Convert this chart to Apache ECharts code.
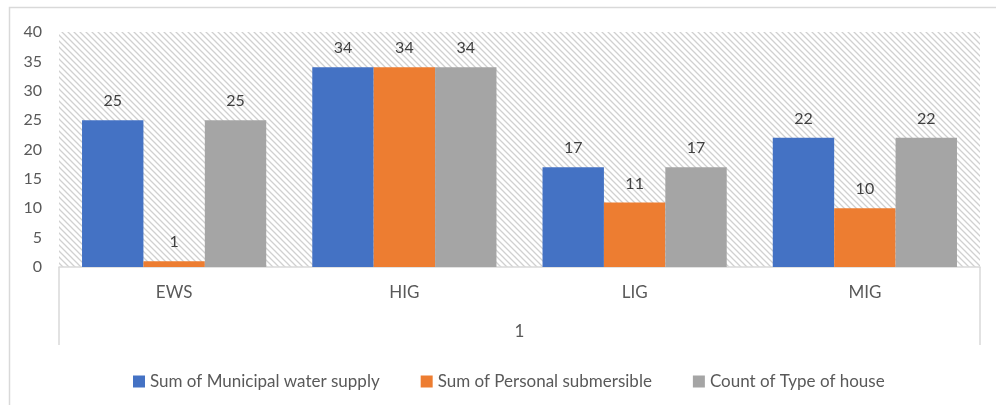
<!DOCTYPE html>
<html>
<head>
<meta charset="utf-8">
<script src="https://cdn.jsdelivr.net/npm/echarts@6/dist/echarts.min.js"></script>
<style>html,body{margin:0;padding:0;background:#fff;}#c{width:996px;height:405px;}</style>
</head>
<body>
<div id="c"></div>
<script>
const categories = ['EWS', 'HIG', 'LIG', 'MIG'];
const outerCategories = ['1'];
const seriesNames = ['Sum of Municipal water supply', 'Sum of Personal submersible', 'Count of Type of house'];
const municipal = [25, 34, 17, 22];
const submersible = [1, 34, 11, 10];
const countHouse = [25, 34, 17, 22];
const yTicks = { min: 0, max: 40, interval: 5 };

const FONT = 'Lato';
const FS = 17;
const colors = ['#4472C4', '#ED7D31', '#A5A5A5'];

// hatch pattern
const pc = document.createElement('canvas');
pc.width = 6; pc.height = 6;
const px = pc.getContext('2d');
px.fillStyle = '#ffffff'; px.fillRect(0, 0, 6, 6);
px.strokeStyle = '#d0d0d0'; px.lineWidth = 1.3;
px.beginPath();
px.moveTo(-1, -1); px.lineTo(7, 7);
px.moveTo(-4, 2); px.lineTo(4, 10);
px.moveTo(2, -4); px.lineTo(10, 4);
px.stroke();

const chart = echarts.init(document.getElementById('c'));
const label = { show: true, position: 'top', distance: 11, color: '#404040', fontSize: 16, fontFamily: FONT };
chart.setOption({
  animation: false,
  textStyle: { fontFamily: FONT },
  graphic: [{ type: 'rect', shape: { x: 9.5, y: 7.5, width: 1000, height: 420 }, style: { fill: 'none', stroke: '#d9d9d9', lineWidth: 1.5 }, silent: true, z: -1 }],
  grid: { left: 59, right: 16, top: 32, bottom: 138, show: true, borderWidth: 0, backgroundColor: { image: pc, repeat: 'repeat' } },
  legend: {
    top: 368, left: 128, itemWidth: 12, itemHeight: 12, itemGap: 41,
    icon: 'rect',
    textStyle: { color: '#595959', fontSize: FS, fontFamily: FONT },
    data: seriesNames
  },
  xAxis: [{
    type: 'category', data: categories, position: 'bottom',
    axisLine: { lineStyle: { color: '#d9d9d9', width: 1.5 } },
    axisTick: { show: false },
    axisLabel: { color: '#595959', fontSize: FS, fontFamily: FONT, margin: 17 }
  }, {
    type: 'category', data: outerCategories, position: 'bottom',
    axisLine: { show: false },
    axisTick: { show: true, length: 78, lineStyle: { color: '#d9d9d9', width: 1.5 } },
    axisLabel: { color: '#595959', fontSize: FS, fontFamily: FONT, margin: 56 }
  }],
  yAxis: {
    type: 'value', min: yTicks.min, max: yTicks.max, interval: yTicks.interval,
    axisLine: { show: false }, axisTick: { show: false }, splitLine: { show: false },
    axisLabel: { color: '#595959', fontSize: 16, fontFamily: FONT, margin: 17 }
  },
  series: [
    { name: seriesNames[0], type: 'bar', data: municipal, itemStyle: { color: colors[0] }, barGap: '0%', barCategoryGap: '20%', label },
    { name: seriesNames[1], type: 'bar', data: submersible, itemStyle: { color: colors[1] }, barGap: '0%', barCategoryGap: '20%', label },
    { name: seriesNames[2], type: 'bar', data: countHouse, itemStyle: { color: colors[2] }, barGap: '0%', barCategoryGap: '20%', label }
  ]
});
</script>
</body>
</html>
